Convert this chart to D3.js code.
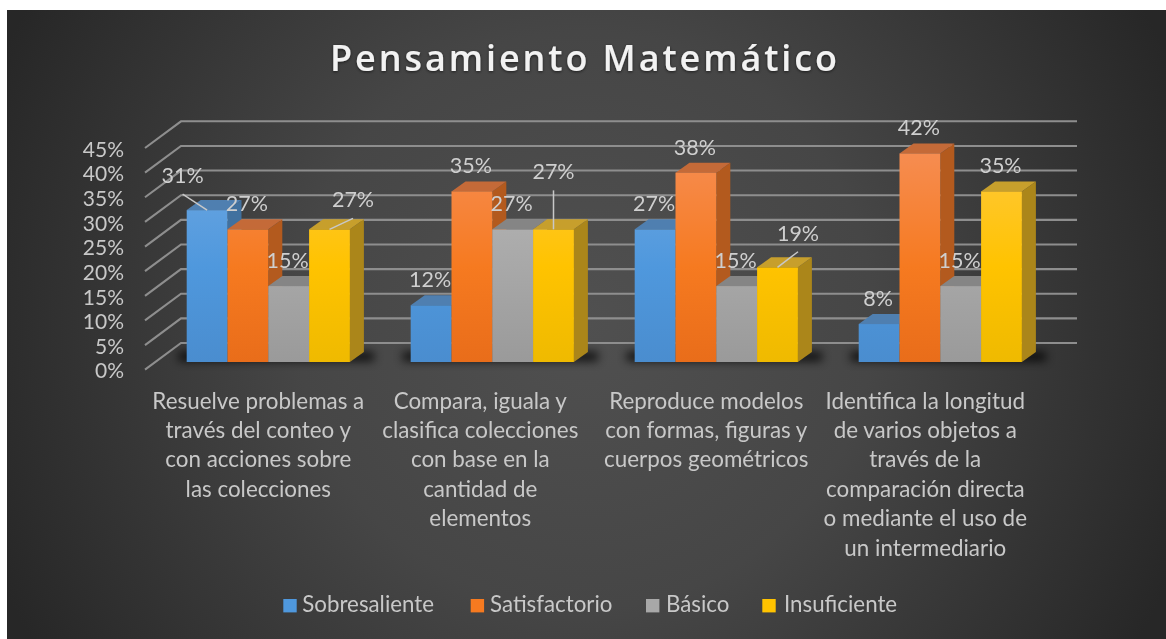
<!DOCTYPE html>
<html>
<head>
<meta charset="utf-8">
<script src="https://cdn.jsdelivr.net/npm/d3@7"></script>
<style>
  body { margin: 0; background: #fff; }
  svg { display: block; filter: blur(0.45px); }
  text { font-family: Lato, sans-serif; }
</style>
</head>
<body>
<svg width="1166" height="639"></svg>
<script>
const titleText = "Pensamiento Matemático";
const categories = [
  ["Resuelve problemas a", "través del conteo y", "con acciones sobre", "las colecciones"],
  ["Compara, iguala y", "clasifica colecciones", "con base en la", "cantidad de", "elementos"],
  ["Reproduce modelos", "con formas, figuras y", "cuerpos geométricos"],
  ["Identifica la longitud", "de varios objetos a", "través de la", "comparación directa", "o mediante el uso de", "un intermediario"]
];
const seriesNames = ["Sobresaliente", "Satisfactorio", "Básico", "Insuficiente"];
const sobresaliente = [0.308, 0.115, 0.269, 0.077];
const satisfactorio = [0.269, 0.346, 0.384, 0.423];
const basico = [0.154, 0.269, 0.154, 0.154];
const insuficiente = [0.269, 0.269, 0.192, 0.346];
const seriesValues = [sobresaliente, satisfactorio, basico, insuficiente];
const yTicks = [0, 0.05, 0.1, 0.15, 0.2, 0.25, 0.3, 0.35, 0.4, 0.45];

// label moved away from its bar: [series, category, dx, dy]
const movedLabels = [
  [0, 0, -24.5, -9],
  [3, 0, 23.5, -4],
  [3, 1, 0, -32],
  [3, 2, 20.5, -8.6]
];

const colors = [
  { top: "#4f7fb0", side: "#41719f", stops: ["#6fa8e2", "#4f98dd", "#4a8dcf"] },
  { top: "#c46a38", side: "#b35a1e", stops: ["#f68d52", "#f67a20", "#e96d1a"] },
  { top: "#858585", side: "#7a7a7a", stops: ["#b8b8b8", "#a8a8a8", "#9a9a9a"] },
  { top: "#c79f2c", side: "#ab861a", stops: ["#ffc83e", "#ffc300", "#efba00"] }
];

const svg = d3.select("svg");
const defs = svg.append("defs");

const bg = defs.append("radialGradient")
  .attr("id", "bg")
  .attr("gradientUnits", "userSpaceOnUse")
  .attr("cx", 585).attr("cy", 320).attr("r", 640);
bg.append("stop").attr("offset", 0).attr("stop-color", "#505050");
bg.append("stop").attr("offset", 0.45).attr("stop-color", "#464646");
bg.append("stop").attr("offset", 1).attr("stop-color", "#272727");

colors.forEach((c, i) => {
  const grad = defs.append("linearGradient")
    .attr("id", `front${i}`)
    .attr("gradientUnits", "userSpaceOnUse")
    .attr("x1", 0).attr("x2", 0).attr("y1", 150).attr("y2", 362);
  grad.append("stop").attr("offset", 0).attr("stop-color", c.stops[0]);
  grad.append("stop").attr("offset", 0.55).attr("stop-color", c.stops[1]);
  grad.append("stop").attr("offset", 1).attr("stop-color", c.stops[2]);
});

const shadowBlur = defs.append("filter")
  .attr("id", "shadowBlur")
  .attr("x", "-20%").attr("y", "-200%").attr("width", "140%").attr("height", "500%");
shadowBlur.append("feGaussianBlur").attr("stdDeviation", 5);

const titleShadow = defs.append("filter").attr("id", "titleShadow");
titleShadow.append("feDropShadow")
  .attr("dx", 0).attr("dy", 1).attr("stdDeviation", 1.5)
  .attr("flood-color", "#000").attr("flood-opacity", 0.6);

svg.append("rect")
  .attr("x", 7).attr("y", 10)
  .attr("width", 1159).attr("height", 629)
  .attr("fill", "url(#bg)");

svg.append("text")
  .attr("x", 585).attr("y", 70.5)
  .attr("text-anchor", "middle")
  .attr("fill", "#f2f2f2")
  .attr("filter", "url(#titleShadow)")
  .style("font-family", "'Open Sans', sans-serif")
  .style("font-size", "36px")
  .style("font-weight", 600)
  .style("letter-spacing", "2.9px")
  .text(titleText);

// scales
const x = d3.scaleBand()
  .domain(d3.range(categories.length))
  .range([156.3, 1052.3])
  .paddingInner(0.2714)
  .paddingOuter(0.1357);
const xSeries = d3.scaleBand()
  .domain(d3.range(seriesNames.length))
  .range([0, x.bandwidth()]);
const yAxisScale = d3.scaleLinear().domain([0, 0.45]).range([369.7, 148]);
const yBar = d3.scaleLinear().domain([0, 0.45]).range([362, 140.1]);

const wallX = 36;
const wallY = -26.7;
const wallRight = 1077;
const barDepthX = 14;
const barDepthY = -10;

// back wall grid + left side
const grid = svg.append("g")
  .attr("stroke", "#8e8e8e")
  .attr("stroke-width", 2.1)
  .attr("fill", "none");
grid.selectAll("path")
  .data(yTicks)
  .join("path")
  .attr("d", d => {
    const y0 = yAxisScale(d);
    return d3.line()([[145, y0], [145 + wallX, y0 + wallY], [wallRight, y0 + wallY]]);
  });

const yAxis = svg.append("g")
  .attr("transform", "translate(145,1.5)")
  .call(d3.axisLeft(yAxisScale).tickValues(yTicks).tickSize(0).tickPadding(21).tickFormat(d3.format(".0%")));
yAxis.select(".domain").remove();
yAxis.selectAll("text")
  .attr("fill", "#c8c8c8")
  .style("font-size", "21px");

// floor shadows
svg.append("g")
  .selectAll("rect")
  .data(d3.range(categories.length))
  .join("rect")
  .attr("x", d => x(d) - 8)
  .attr("y", yBar(0) - 10)
  .attr("width", x.bandwidth() + 32)
  .attr("height", 9)
  .attr("fill", "#000")
  .attr("opacity", 0.8)
  .attr("filter", "url(#shadowBlur)");

// bars, left to right so each one covers the side of the previous
const bars = [];
categories.forEach((c, ci) => {
  seriesValues.forEach((vals, si) => bars.push({ ci, si, v: vals[ci] }));
});
const barX = d => x(d.ci) + xSeries(d.si);
const w = xSeries.bandwidth();

const barG = svg.append("g")
  .selectAll("g")
  .data(bars)
  .join("g");

barG.append("path")
  .attr("fill", d => colors[d.si].side)
  .attr("d", d => {
    const x1 = barX(d) + w;
    return d3.line()([
      [x1, yBar(d.v)],
      [x1 + barDepthX, yBar(d.v) + barDepthY],
      [x1 + barDepthX, yBar(0) + barDepthY],
      [x1, yBar(0)]
    ]) + "Z";
  });

barG.append("path")
  .attr("fill", d => colors[d.si].top)
  .attr("d", d => {
    const x0 = barX(d);
    const y0 = yBar(d.v);
    return d3.line()([
      [x0, y0],
      [x0 + barDepthX, y0 + barDepthY],
      [x0 + w + barDepthX, y0 + barDepthY],
      [x0 + w, y0]
    ]) + "Z";
  });

barG.append("rect")
  .attr("x", barX)
  .attr("y", d => yBar(d.v))
  .attr("width", w)
  .attr("height", d => yBar(0) - yBar(d.v))
  .attr("fill", d => `url(#front${d.si})`);

// data labels
const shiftOf = d => movedLabels.find(m => m[0] === d.si && m[1] === d.ci);
const labelX = d => barX(d) + w / 2 + (shiftOf(d) ? shiftOf(d)[2] : -1);
const labelY = d => yBar(d.v) - 18 + (shiftOf(d) ? shiftOf(d)[3] : 0);

svg.append("g")
  .attr("stroke", "#c8c8c8")
  .attr("stroke-width", 1.5)
  .selectAll("line")
  .data(bars.filter(shiftOf))
  .join("line")
  .attr("x1", labelX)
  .attr("y1", d => labelY(d) + 11)
  .attr("x2", d => barX(d) + w / 2)
  .attr("y2", d => yBar(d.v));

svg.append("g")
  .selectAll("text")
  .data(bars)
  .join("text")
  .attr("x", labelX)
  .attr("y", labelY)
  .attr("text-anchor", "middle")
  .attr("fill", "#cfcfcf")
  .style("font-size", "21.5px")
  .text(d => d3.format(".0%")(d.v));

// category labels
const catShift = [-10, -12, -10, -15];
const catG = svg.append("g")
  .selectAll("text")
  .data(categories)
  .join("text")
  .attr("text-anchor", "middle")
  .attr("fill", "#c8c8c8")
  .style("font-size", "22.4px");
catG.selectAll("tspan")
  .data((lines, i) => lines.map(l => ({ l, i })))
  .join("tspan")
  .attr("x", d => x(d.i) + x.bandwidth() / 2 + catShift[d.i])
  .attr("y", (d, j) => 408.5 + j * 29.4)
  .text(d => d.l);

// legend
const legendSwatch = [283.3, 470.7, 646, 762.3];
const legendText = [302.3, 490, 666, 784];
const legend = svg.append("g")
  .selectAll("g")
  .data(seriesNames)
  .join("g");
legend.append("rect")
  .attr("x", (d, i) => legendSwatch[i])
  .attr("y", 599)
  .attr("width", 13.4)
  .attr("height", 13.4)
  .attr("fill", (d, i) => colors[i].stops[1]);
legend.append("text")
  .attr("x", (d, i) => legendText[i])
  .attr("y", 611.7)
  .attr("fill", "#c8c8c8")
  .style("font-size", "22.3px")
  .text(d => d);
</script>
</body>
</html>
